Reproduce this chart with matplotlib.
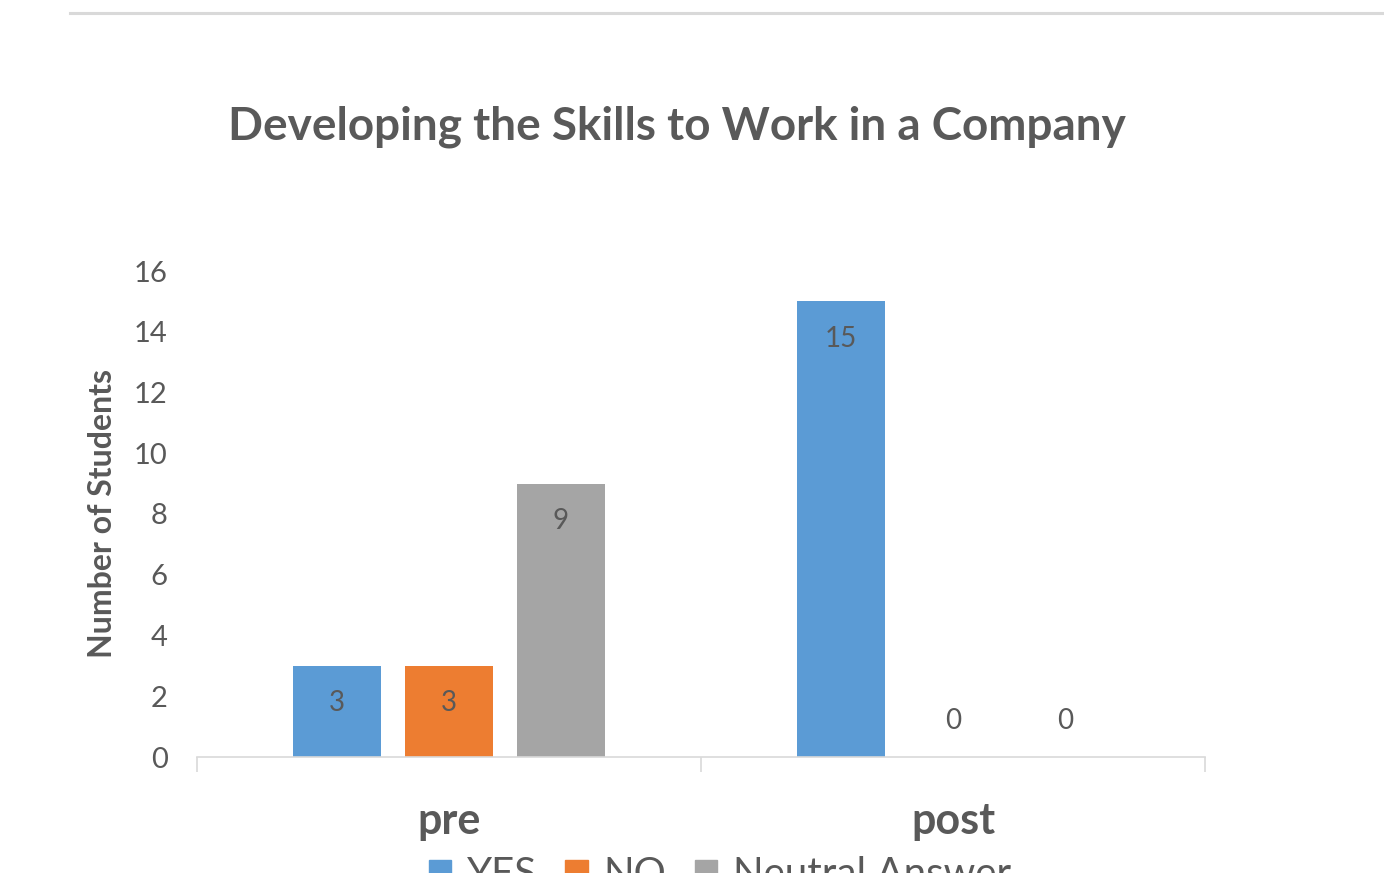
import numpy as np
import matplotlib
matplotlib.use("Agg")
import matplotlib.pyplot as plt
from matplotlib.patches import Patch

# data
categories = ["pre", "post"]
series_names = ["YES", "NO", "Neutral Answer"]
yes_vals = [3, 15]
no_vals = [3, 0]
neutral_vals = [9, 0]
y_ticks = [0, 2, 4, 6, 8, 10, 12, 14, 16]

COLORS = ["#5B9BD5", "#ED7D31", "#A5A5A5"]
TXT = "#595959"
LINE = "#D9D9D9"

plt.rcParams["font.family"] = ["Lato", "DejaVu Sans"]

fig = plt.figure(figsize=(13.84, 8.73), dpi=100)
ax = fig.add_axes([197 / 1384, 116 / 873, 1008 / 1384, 486 / 873])

# top separator line
fig.add_artist(plt.Line2D([70 / 1384, 1.0], [1 - 13 / 873] * 2, color=LINE, lw=2.2))

x = np.arange(len(categories))
w = 0.175
step = 0.222
for k, vals in enumerate([yes_vals, no_vals, neutral_vals]):
    pos = x + (k - 1) * step
    ax.bar(pos, vals, w, color=COLORS[k], label=series_names[k])
    for px, v in zip(pos, vals):
        off = -27 if v > 0 else 26
        ax.annotate(str(v), (px, v), xytext=(0, off), textcoords="offset points",
                    ha="center", va="center", fontsize=20, color=TXT)

ax.set_xlim(-0.5, 1.5)
ax.set_ylim(0, 16)
ax.set_yticks(y_ticks)
ax.set_xticks(x)
ax.set_xticklabels(categories, fontsize=31, fontweight="bold", color=TXT)
ax.set_xticks([-0.5, 0.5, 1.5], minor=True)
ax.tick_params(axis="x", which="major", length=0, pad=32)
ax.tick_params(axis="x", which="minor", length=11, color=LINE, width=1.2)
ax.tick_params(axis="y", length=0, pad=21, labelsize=21, labelcolor=TXT)
for s in ["top", "right", "left"]:
    ax.spines[s].set_visible(False)
ax.spines["bottom"].set_color(LINE)
ax.spines["bottom"].set_linewidth(1.2)

ax.set_ylabel("Number of Students", fontsize=23, fontweight="bold", color=TXT, labelpad=12)

fig.text(677 / 1384, 1 - 127 / 873, "Developing the Skills to Work in a Company",
         ha="center", va="center", fontsize=33, fontweight="bold", color=TXT)

# legend sits at the bottom edge, partly cut off as in the source image
handles = [Patch(color=c) for c in COLORS]
fig.legend(handles, series_names, loc="center", bbox_to_anchor=(720 / 1384, 1 - 875 / 873),
           ncol=3, frameon=False, fontsize=29, labelcolor=TXT, handlelength=0.55,
           handleheight=0.55, columnspacing=0.7, handletextpad=0.4)

fig.savefig("out.png", dpi=100)
